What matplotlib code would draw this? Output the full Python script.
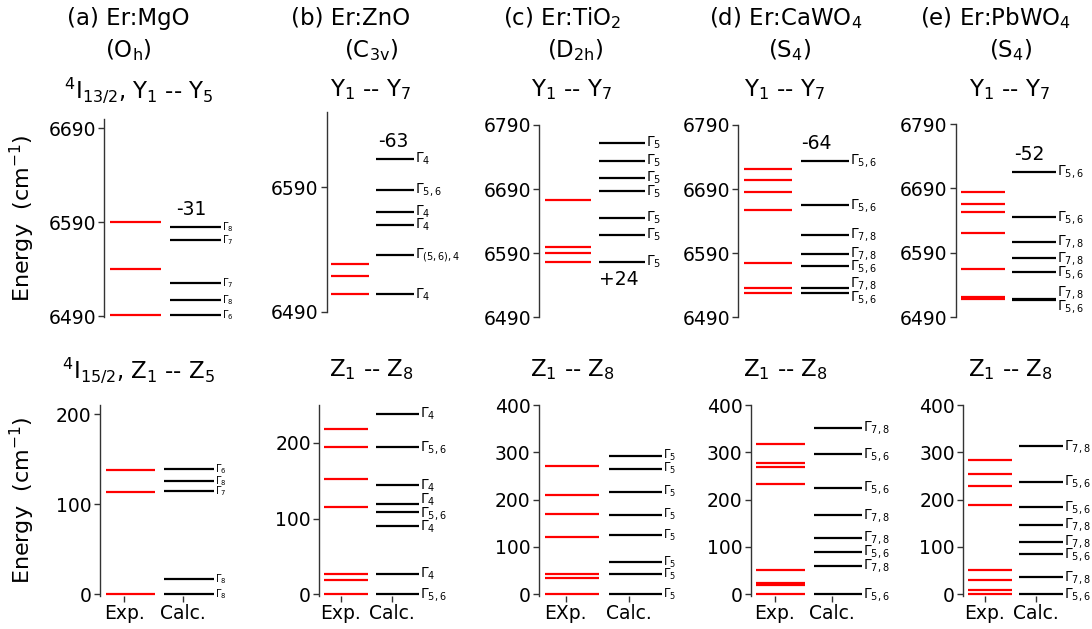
import matplotlib
matplotlib.use("Agg")
import matplotlib.pyplot as plt

W, H = 1092, 629

# ---------------- text ----------------
panel_titles = ["(a) Er:MgO", "(b) Er:ZnO", "(c) Er:TiO$_2$", "(d) Er:CaWO$_4$", "(e) Er:PbWO$_4$"]
site_symmetry = ["(O$_\\mathrm{h}$)", "(C$_\\mathrm{3v}$)", "(D$_\\mathrm{2h}$)", "(S$_4$)", "(S$_4$)"]
upper_titles = ["$^4$I$_{13/2}$, Y$_1$ -- Y$_5$", "Y$_1$ -- Y$_7$", "Y$_1$ -- Y$_7$",
                "Y$_1$ -- Y$_7$", "Y$_1$ -- Y$_7$"]
lower_titles = ["$^4$I$_{15/2}$, Z$_1$ -- Z$_5$", "Z$_1$ -- Z$_8$", "Z$_1$ -- Z$_8$",
                "Z$_1$ -- Z$_8$", "Z$_1$ -- Z$_8$"]
xtick_labels = [["Exp.", "Calc."], ["Exp.", "Calc."], ["EXp.", "Calc."],
                ["Exp.", "Calc."], ["Exp.", "Calc."]]
shift_labels = ["-31", "-63", "+24", "-64", "-52"]

# ---------------- data: upper multiplet (4I13/2) ----------------
mgo_Y_exp = [6491, 6540, 6590]
mgo_Y_calc = [6491, 6507, 6525, 6571, 6585]
mgo_Y_irrep = ["6", "8", "7", "7", "8"]

zno_Y_exp = [6504, 6519, 6528]
zno_Y_calc = [6504, 6536, 6560, 6570, 6588, 6613]
zno_Y_irrep = ["4", "(5,6),4", "4", "4", "5,6", "4"]

tio2_Y_exp = [6576, 6591, 6600, 6673]
tio2_Y_calc = [6576, 6618, 6645, 6687, 6707, 6734, 6762]
tio2_Y_irrep = ["5", "5", "5", "5", "5", "5", "5"]

cawo4_Y_exp = [6528, 6536, 6575, 6657, 6685, 6704, 6722]
cawo4_Y_calc = [6528, 6536, 6570, 6589, 6619, 6665, 6734]
cawo4_Y_irrep = ["5,6", "7,8", "5,6", "7,8", "7,8", "5,6", "5,6"]

pbwo4_Y_exp = [6518, 6521, 6565, 6621, 6653, 6666, 6684]
pbwo4_Y_calc = [6517.5, 6518.3, 6560, 6582, 6607, 6645, 6716]
pbwo4_Y_irrep = ["5,6", "7,8", "5,6", "7,8", "7,8", "5,6", "5,6"]

# ---------------- data: ground multiplet (4I15/2) ----------------
mgo_Z_exp = [0, 113, 138]
mgo_Z_calc = [0, 17, 114, 126, 139]
mgo_Z_irrep = ["8", "8", "7", "8", "6"]

zno_Z_exp = [0, 19, 27, 116, 152, 195, 218]
zno_Z_calc = [0, 27, 91, 109, 120, 144, 194, 238]
zno_Z_irrep = ["5,6", "4", "4", "5,6", "4", "4", "5,6", "4"]

tio2_Z_exp = [0, 35, 42, 120, 170, 209, 271]
tio2_Z_calc = [0, 42, 67, 124, 168, 217, 265, 293]
tio2_Z_irrep = ["5", "5", "5", "5", "5", "5", "5", "5"]

cawo4_Z_exp = [0, 19, 24, 51, 232, 268, 278, 318]
cawo4_Z_calc = [0, 60, 90, 119, 167, 225, 296, 352]
cawo4_Z_irrep = ["5,6", "7,8", "5,6", "7,8", "7,8", "5,6", "5,6", "7,8"]

pbwo4_Z_exp = [0, 9, 30, 50, 189, 229, 254, 283]
pbwo4_Z_calc = [0, 36, 84, 111, 147, 184, 238, 313]
pbwo4_Z_irrep = ["5,6", "7,8", "5,6", "7,8", "7,8", "5,6", "5,6", "7,8"]

upper_exp = [mgo_Y_exp, zno_Y_exp, tio2_Y_exp, cawo4_Y_exp, pbwo4_Y_exp]
upper_calc = [mgo_Y_calc, zno_Y_calc, tio2_Y_calc, cawo4_Y_calc, pbwo4_Y_calc]
upper_irrep = [mgo_Y_irrep, zno_Y_irrep, tio2_Y_irrep, cawo4_Y_irrep, pbwo4_Y_irrep]
lower_exp = [mgo_Z_exp, zno_Z_exp, tio2_Z_exp, cawo4_Z_exp, pbwo4_Z_exp]
lower_calc = [mgo_Z_calc, zno_Z_calc, tio2_Z_calc, cawo4_Z_calc, pbwo4_Z_calc]
lower_irrep = [mgo_Z_irrep, zno_Z_irrep, tio2_Z_irrep, cawo4_Z_irrep, pbwo4_Z_irrep]

upper_yticks = [[6490, 6590, 6690], [6490, 6590], [6490, 6590, 6690, 6790],
                [6490, 6590, 6690, 6790], [6490, 6590, 6690, 6790]]
lower_yticks = [[0, 100, 200], [0, 100, 200], [0, 100, 200, 300, 400],
                [0, 100, 200, 300, 400], [0, 100, 200, 300, 400]]
upper_ylim = [(6489, 6700), (6490, 6651), (6490, 6790), (6490, 6790), (6490, 6790)]
lower_ylim = [(-2, 210), (-2, 250), (-4, 400), (-4, 400), (-4, 400)]

# ---------------- layout (pixels) ----------------
XL = (-0.42, 1.58)
# left spine px, px per x-unit, bottom px, top px
upper_box = [(104.3, 60.0, 317.0, 119.0), (326.7, 44.7, 311.7, 111.7), (539.3, 54.0, 317.3, 125.0),
             (738.3, 56.7, 317.3, 125.0), (956.0, 51.3, 317.3, 124.0)]
lower_box = [(100.0, 58.3, 596.0, 405.0), (319.3, 51.3, 596.0, 405.0), (539.0, 63.3, 596.0, 405.0),
             (750.7, 57.3, 596.0, 405.0), (963.3, 51.0, 596.0, 405.0)]
upper_lab_fs = [7, 10, 10, 10, 10]
lower_lab_fs = [7, 10, 8.5, 10, 10]
title_x1 = [128, 351, 562, 786, 996]
title_x2 = [128, 371, 575, 790, 1011]
sub_x = [139, 371, 572, 785, 1010]
shift_dx = [6, 2, 0, 0, 2]

fig = plt.figure(figsize=(W / 100, H / 100), dpi=100)
AXC = "#333333"


def make_ax(box, ylim):
    left, unit, bot, top = box
    wpx = unit * (XL[1] - XL[0])
    ax = fig.add_axes([left / W, 1 - bot / H, wpx / W, (bot - top) / H])
    ax.set_xlim(*XL)
    ax.set_ylim(*ylim)
    for s in ["top", "right", "bottom"]:
        ax.spines[s].set_visible(False)
    ax.spines["left"].set_color(AXC)
    ax.spines["left"].set_linewidth(1.0)
    ax.tick_params(axis="y", labelsize=13.5, length=4, width=1, color=AXC, pad=2)
    ax.patch.set_alpha(0)
    return ax, (bot - top) / (ylim[1] - ylim[0])


def spread(vals, min_sep):
    pos = list(vals)
    for _ in range(300):
        moved = False
        for i in range(len(pos) - 1):
            d = pos[i + 1] - pos[i]
            if d < min_sep - 1e-6:
                sh = (min_sep - d) / 2
                pos[i] -= sh
                pos[i + 1] += sh
                moved = True
        if not moved:
            break
    return pos


def draw_panel(ax, ppu, exp, calc, irrep, fs):
    x0, x1 = -0.32, 0.53
    ax.hlines(exp, 0 + x0, 0 + x1, colors="#ff0000", lw=1.6)
    ax.hlines(calc, 1 + x0, 1 + x1, colors="black", lw=1.6)
    order = sorted(range(len(calc)), key=lambda i: calc[i])
    vals_px = [calc[i] * ppu for i in order]
    pos = spread(vals_px, fs * 1.35)
    for k, i in enumerate(order):
        dy = pos[k] - vals_px[k]
        ax.annotate(r"$\Gamma_{%s}$" % irrep[i], xy=(1 + x1, calc[i]), xytext=(1, dy),
                    textcoords="offset pixels", ha="left", va="center", fontsize=fs,
                    annotation_clip=False)


for p in range(5):
    # upper row
    ax, ppu = make_ax(upper_box[p], upper_ylim[p])
    ax.set_xticks([])
    ax.set_yticks(upper_yticks[p])
    draw_panel(ax, ppu, upper_exp[p], upper_calc[p], upper_irrep[p], upper_lab_fs[p])
    if shift_labels[p].startswith("+"):
        ax.annotate(shift_labels[p], xy=(1 - 0.32, min(upper_calc[p])), xytext=(shift_dx[p], -17),
                    textcoords="offset pixels", ha="left", va="center", fontsize=13.5)
    else:
        ax.annotate(shift_labels[p], xy=(1 - 0.32, max(upper_calc[p])), xytext=(shift_dx[p], 17),
                    textcoords="offset pixels", ha="left", va="center", fontsize=13.5)

    # lower row
    ax2, ppu2 = make_ax(lower_box[p], lower_ylim[p])
    ax2.set_yticks(lower_yticks[p])
    ax2.set_xticks([0, 1])
    ax2.set_xticklabels(xtick_labels[p])
    ax2.tick_params(axis="x", labelsize=13.5, length=4, width=1, color=AXC, pad=2)
    draw_panel(ax2, ppu2, lower_exp[p], lower_calc[p], lower_irrep[p], lower_lab_fs[p])

    # titles
    fig.text(title_x1[p] / W, 1 - 18 / H, panel_titles[p], ha="center", va="center", fontsize=16.5)
    fig.text(title_x2[p] / W, 1 - 50 / H, site_symmetry[p], ha="center", va="center", fontsize=16.5)
    fig.text(sub_x[p] / W, 1 - 90 / H, upper_titles[p], ha="center", va="center", fontsize=16.5)
    fig.text(sub_x[p] / W, 1 - 370 / H, lower_titles[p], ha="center", va="center", fontsize=16.5)

fig.text(22 / W, 1 - 218 / H, "Energy  (cm$^{-1}$)", rotation=90, ha="center", va="center", fontsize=16)
fig.text(22 / W, 1 - 500 / H, "Energy  (cm$^{-1}$)", rotation=90, ha="center", va="center", fontsize=16)

fig.savefig("out.png", dpi=100)
